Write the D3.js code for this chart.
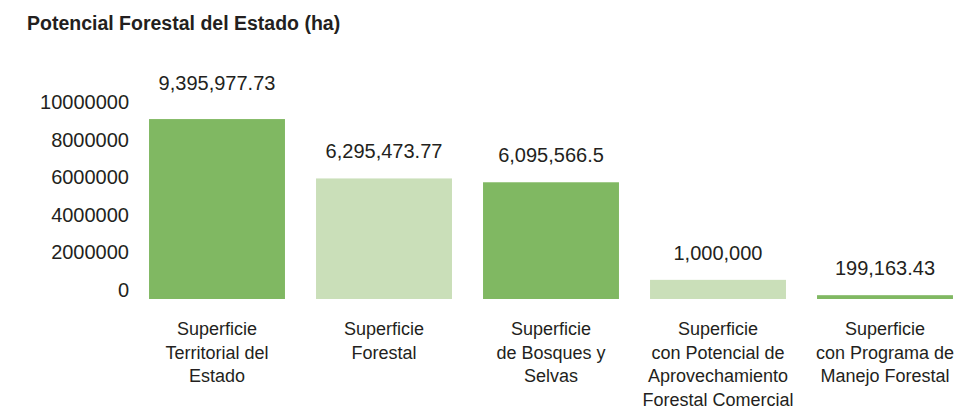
<!DOCTYPE html>
<html>
<head>
<meta charset="utf-8">
<script src="https://cdn.jsdelivr.net/npm/d3@7"></script>
<style>
  body { margin: 0; background: #fff; }
  text { font-family: "Liberation Sans", Arial, sans-serif; fill: #231f20; }
</style>
</head>
<body>
<div id="chart"></div>
<script>
var categories = [
  ["Superficie", "Territorial del", "Estado"],
  ["Superficie", "Forestal"],
  ["Superficie", "de Bosques y", "Selvas"],
  ["Superficie", "con Potencial de", "Aprovechamiento", "Forestal Comercial"],
  ["Superficie", "con Programa de", "Manejo Forestal"]
];
var values = [9395977.73, 6295473.77, 6095566.5, 1000000, 199163.43];
var valueLabels = ["9,395,977.73", "6,295,473.77", "6,095,566.5", "1,000,000", "199,163.43"];
var barColors = ["#80b862", "#cadfb9", "#80b862", "#cadfb9", "#80b862"];
var yTicks = [0, 2000000, 4000000, 6000000, 8000000, 10000000];

var width = 964, height = 409;

var svg = d3.select("#chart").append("svg")
    .attr("width", width)
    .attr("height", height);

svg.append("text")
    .attr("x", 27)
    .attr("y", 30)
    .style("font-weight", "bold")
    .style("font-size", "19.5px")
    .text("Potencial Forestal del Estado (ha)");

var x = d3.scaleBand()
    .domain(d3.range(values.length))
    .range([133.5, 968.5])
    .paddingInner(0.186)
    .paddingOuter(0.093);

var y = d3.scaleLinear()
    .domain([0, 10000000])
    .range([299, 107.5]);

// y axis, labels only
var yAxis = d3.axisLeft(y)
    .tickValues(yTicks)
    .tickFormat(d3.format("d"))
    .tickSize(0)
    .tickPadding(0);

var ga = svg.append("g")
    .attr("transform", "translate(129,0)")
    .call(yAxis);
ga.select(".domain").remove();
ga.selectAll("text")
    .attr("dy", "-0.05em")
    .attr("transform", function(d) { return "translate(0," + (-2 + d / 10000000 * 4) + ")"; })
    .style("font-size", "20px")
    .style("font-family", "'Liberation Sans', Arial, sans-serif")
    .attr("fill", "#231f20");

svg.selectAll("rect.bar")
    .data(values)
    .enter().append("rect")
    .attr("class", "bar")
    .attr("x", function(d, i) { return x(i); })
    .attr("width", x.bandwidth())
    .attr("y", function(d) { return y(d); })
    .attr("height", function(d) { return y(0) - y(d); })
    .attr("fill", function(d, i) { return barColors[i]; });

svg.selectAll("text.val")
    .data(values)
    .enter().append("text")
    .attr("class", "val")
    .attr("x", function(d, i) { return x(i) + x.bandwidth() / 2; })
    .attr("y", function(d, i) { return y(d) - (i === 0 ? 29 : 20); })
    .attr("text-anchor", "middle")
    .style("font-size", "20px")
    .text(function(d, i) { return valueLabels[i]; });

var cat = svg.selectAll("text.cat")
    .data(categories)
    .enter().append("text")
    .attr("class", "cat")
    .attr("text-anchor", "middle")
    .style("font-size", "18px");

cat.selectAll("tspan")
    .data(function(d, i) { return d.map(function(s) { return {s: s, i: i}; }); })
    .enter().append("tspan")
    .attr("x", function(d) { return x(d.i) + x.bandwidth() / 2; })
    .attr("y", function(d, j) { return 335 + j * 23.5; })
    .text(function(d) { return d.s; });
</script>
</body>
</html>
